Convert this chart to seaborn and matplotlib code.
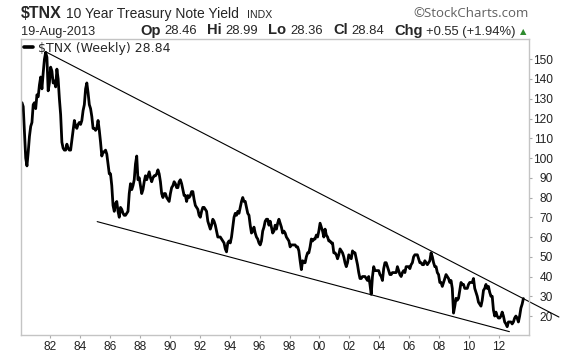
import numpy as np
import pandas as pd
import matplotlib
matplotlib.use("Agg")
import matplotlib.pyplot as plt
import seaborn as sns

# ---- data: $TNX (10-yr yield x10), one per month from Feb 1980
tnx_1980s = [128, 126, 113, 100, 96, 103, 111, 116, 118, 127, 128,
             125, 132, 131, 137, 141, 135, 143, 150, 153.5, 151, 134, 138,
             146, 144, 138, 139, 136, 145, 140, 130, 122, 108, 105, 104,
             104, 107, 105, 104, 104, 109, 114, 119, 116, 115, 117, 118,
             117, 119, 124, 127, 135, 138, 133, 127, 125, 121, 115, 115,
             114, 115, 119, 114, 108, 101, 103, 103, 104, 102, 97, 92,
             92, 86, 76, 73, 77, 78, 73, 70, 75, 74, 72, 71,
             71, 72, 73, 82, 87, 84, 86, 89, 97, 101, 89, 90,
             86, 82, 84, 88, 91, 89, 91, 93, 90, 88, 90, 91,
             91, 92, 94, 92, 88, 82, 80, 82, 82, 80, 79, 78]
tnx_1990s = [82, 85, 86, 88, 87, 85, 85, 88, 89, 87, 84, 81,
             81, 78, 81, 80, 81, 83, 83, 79, 76, 75, 74, 71,
             70, 73, 75, 75, 74, 73, 68, 66, 64, 66, 69, 68,
             66, 63, 60, 60, 60, 59, 58, 57, 54, 52.5, 57, 58,
             57, 60, 65, 70, 72, 71, 73, 72, 75, 78, 80, 78,
             78, 75, 72, 71, 66, 62, 63, 65, 62, 60, 59, 57,
             56, 58, 63, 65, 68, 69, 69, 66, 68, 65, 62, 63,
             66, 64, 67, 69, 67, 65, 62, 63, 62, 60, 59, 58,
             55, 56, 56, 56, 56, 55, 55, 53, 48, 43.5, 48, 47,
             47, 50, 52, 52, 55, 59, 58, 59, 59, 61, 60, 63]
tnx_2000s = [67, 65, 63, 60, 64, 61, 60, 58, 58, 57, 57, 52,
             52, 51, 49, 51, 54, 53, 52, 50, 47, 45, 47, 51,
             50, 49, 53, 52, 52, 49, 46, 42, 39, 39, 40, 40,
             40, 39, 38, 40, 36, 31, 40, 45, 43, 43, 43, 43,
             41, 40, 38, 44, 47, 47, 45, 43, 41, 41, 42, 42,
             42, 42, 45, 43, 41, 40, 42, 43, 42, 45, 45, 45,
             44, 46, 47, 50, 51, 51, 51, 49, 47, 47, 46, 46,
             48, 47, 46, 47, 48, 52, 50, 47, 45, 45, 42, 41,
             37, 37, 35, 37, 39, 41, 40, 39, 37, 38, 34, 21.5,
             25, 29, 28, 29, 33, 37, 36, 36, 34, 34, 34, 36]
tnx_2010s = [37, 37, 37, 39, 34, 32, 30, 27, 26, 25, 28, 33,
             34, 36, 34, 35, 32, 30, 30, 23, 20, 22, 20, 19,
             19, 20, 22, 20, 17, 16, 14.6, 17, 17, 17, 16, 17,
             19, 20, 19, 17, 20, 24, 26, 28.84]
start_year = 1980
start_month = 2

upper_trend_x = [1981.73, 2016.0]
upper_trend_y = [153.7, 19.5]
lower_trend_x = [1985.15, 2012.69]
lower_trend_y = [67.8, 12.1]

ytick_values = list(range(20, 151, 10))
xtick_years = list(range(1982, 2013, 2))
xtick_labels = ["82", "84", "86", "88", "90", "92", "94", "96", "98",
                "00", "02", "04", "06", "08", "10", "12"]

quote_labels = ["Op", "Hi", "Lo", "Cl", "Chg"]
quote_values = ["28.46", "28.99", "28.36", "28.84", "+0.55 (+1.94%)"]

values = tnx_1980s + tnx_1990s + tnx_2000s + tnx_2010s
t = start_year + (start_month - 1 + np.arange(len(values))) / 12 + 1 / 24
df = pd.DataFrame({"year": t, "tnx": values})

# ---- figure
sns.set_style("white")
plt.rcParams["font.family"] = ["Liberation Sans", "DejaVu Sans"]
W, H = 576, 356
fig = plt.figure(figsize=(W / 100, H / 100), dpi=100)
L, R, T, B = 20.7, 529, 38.5, 335
ax = fig.add_axes([L / W, 1 - B / H, (R - L) / W, (B - T) / H])

sns.lineplot(data=df, x="year", y="tnx", ax=ax, color="black", lw=2.0,
             label=r"\$TNX (Weekly) 28.84")
ax.plot(upper_trend_x, upper_trend_y, color="black", lw=0.8, clip_on=False)
ax.plot(lower_trend_x, lower_trend_y, color="black", lw=0.8)

ax.set_xlim(1980.04, 2014.0)
ax.set_ylim(10.4, 160.5)
ax.set_xlabel("")
ax.set_ylabel("")

for s in ax.spines.values():
    s.set_color("#c4c4c4")
    s.set_linewidth(1.0)

ax.yaxis.tick_right()
ax.set_yticks(ytick_values)
ax.set_yticklabels([str(v) for v in ytick_values], ha="right")
ax.tick_params(axis="y", right=True, left=False, length=2, width=0.8,
               color="#aaaaaa", labelsize=8.6, pad=15.3, labelcolor="#222222")
ax.set_xticks(xtick_years)
ax.set_xticklabels(xtick_labels)
ax.tick_params(axis="x", bottom=True, length=2, width=0.8, color="#aaaaaa",
               labelsize=8.6, pad=2, labelcolor="#222222")

leg = ax.legend(loc="upper left", frameon=False, borderaxespad=0.0,
                borderpad=0.25, handlelength=0.75, handletextpad=0.35,
                prop={"family": "DejaVu Sans", "size": 9})
for line in leg.get_lines():
    line.set_linewidth(2.6)

# ---- header texts
def px(x, y):
    return x / W, 1 - y / H

fig.text(*px(21, 18.3), r"\$TNX", fontsize=11.5, fontweight="bold", va="baseline")
fig.text(*px(65.7, 18.3), "10 Year Treasury Note Yield", fontsize=10, va="baseline")
fig.text(*px(247, 18.3), "INDX", fontsize=7.6, va="baseline")
fig.text(*px(529, 17), "\u00a9StockCharts.com", fontsize=9.5, va="baseline",
         ha="right", color="#606060", family="Open Sans")

fig.text(*px(21, 34.5), "19-Aug-2013", fontsize=9.2, va="baseline")

# quote row laid out left to right between x=140 and x=516
renderer = fig.canvas.get_renderer()
pieces = []
for lab, val in zip(quote_labels, quote_values):
    pieces.append((lab, True))
    pieces.append((val, False))
texts = []
for txt, bold in pieces:
    tt = fig.text(0, 0, txt, fontsize=10.6 if bold else 9.4,
                  fontweight="bold" if bold else "normal", va="baseline")
    texts.append(tt)
widths = [tt.get_window_extent(renderer).width for tt in texts]
g1 = 3.5
g2 = (516 - 140 - sum(widths) - len(quote_labels) * g1) / (len(quote_labels) - 1)
x = 140.0
for i, tt in enumerate(texts):
    tt.set_position(px(x, 34.5))
    x += widths[i] + (g1 if i % 2 == 0 else g2)
fig.text(*px(523, 34.5), "\u25b2", fontsize=6, va="baseline", ha="center",
         color="#2e8b2e", family="DejaVu Sans")

fig.savefig("out.png", dpi=100)
